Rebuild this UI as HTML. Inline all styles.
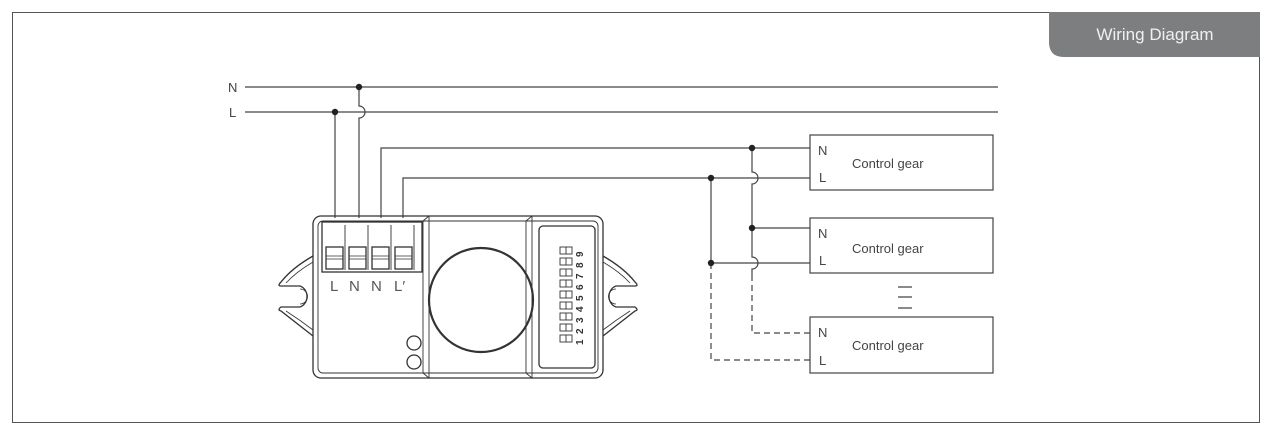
<!DOCTYPE html>
<html><head><meta charset="utf-8"><style>
html,body{margin:0;padding:0;background:#fff;}
svg{display:block;}
text{font-family:"Liberation Sans",sans-serif;}
</style></head><body>
<svg width="1272" height="435" viewBox="0 0 1272 435" xmlns="http://www.w3.org/2000/svg">
<rect x="12.5" y="12.5" width="1247" height="410" fill="none" stroke="#555" stroke-width="1"/>
<path d="M1049 12 H1260 V57 H1064 Q1049 57 1049 42 Z" fill="#7d7e80"/>
<text x="1155" y="40" font-size="17" fill="#f0f0f0" text-anchor="middle">Wiring Diagram</text>

<g stroke="#444" stroke-width="1.2" fill="none">
<path d="M245 87 H998"/>
<path d="M245 112 H998"/>
<path d="M335 112 V218"/>
<path d="M359 87 V106 A6 6 0 0 1 359 118 V218"/>
<path d="M381 218 V148 H810"/>
<path d="M403 218 V178 H810"/>
<path d="M752 148 V172 A6 6 0 0 1 752 184 V257 A6 6 0 0 1 752 269 V275"/>
<path d="M752 228 H810"/>
<path d="M711 178 V263 H810"/>
<path d="M752 275 V333 H810" stroke-dasharray="6,4"/>
<path d="M711 263 V360 H810" stroke-dasharray="6,4"/>
<rect x="810" y="135" width="183" height="55"/>
<rect x="810" y="218" width="183" height="55"/>
<rect x="810" y="317" width="183" height="56"/>
<path d="M898 287 H912 M898 297 H912 M898 308 H912"/>
</g>
<g fill="#222">
<circle cx="359" cy="87" r="3.2"/><circle cx="335" cy="112" r="3.2"/>
<circle cx="752" cy="148" r="3.2"/><circle cx="711" cy="178" r="3.2"/>
<circle cx="752" cy="228" r="3.2"/><circle cx="711" cy="263" r="3.2"/>
</g>
<g font-size="13" fill="#444">
<text x="228" y="92">N</text><text x="229" y="117">L</text>
<text x="818" y="155">N</text><text x="819" y="182">L</text>
<text x="818" y="238">N</text><text x="819" y="265">L</text>
<text x="818" y="337">N</text><text x="819" y="365">L</text>
<text x="852" y="168">Control gear</text>
<text x="852" y="253">Control gear</text>
<text x="852" y="350">Control gear</text>
</g>

<g stroke="#333" stroke-width="1.3" fill="none">
<path d="M313 256 Q292 268 281 282 Q277 286 281 286 H300 A10 11 0 0 1 300 307 H281 Q277 310 281 311 Q295 322 313 336"/>
<path d="M313 262 Q296 272 286 283 M300 289 A7 7 0 0 1 300 304 M286 311 Q300 320 313 330" stroke-width="0.8"/>
<path d="M603 256 Q624 268 635 282 Q639 286 635 286 H616 A10 11 0 0 0 616 307 H635 Q639 310 635 311 Q621 322 603 336"/>
<path d="M603 262 Q620 272 630 283 M616 289 A7 7 0 0 0 616 304 M630 311 Q616 320 603 330" stroke-width="0.8"/>
<rect x="313" y="216" width="290" height="162" rx="8"/>
<rect x="318" y="221" width="280" height="152" rx="5" stroke-width="0.9"/>
<path d="M423 221 L429 216 M423 373 L429 378 M526 221 L532 216 M526 373 L532 378" stroke-width="0.9"/>
<path d="M423 221 V373 M429 216 V378 M526 221 V373 M532 216 V378" stroke-width="0.9"/>
<rect x="539" y="226" width="56" height="142" rx="4"/>
<rect x="322" y="222" width="100" height="50"/>
<path d="M345 225 V270 M368 225 V270 M391 225 V270 M414 225 V270" stroke-width="0.9"/>
<rect x="326" y="247" width="17" height="22"/><rect x="349" y="247" width="17" height="22"/>
<rect x="372" y="247" width="17" height="22"/><rect x="395" y="247" width="17" height="22"/>
<path d="M326 256 H343 M326 259 H343 M349 256 H366 M349 259 H366 M372 256 H389 M372 259 H389 M395 256 H412 M395 259 H412" stroke-width="0.8"/>
<circle cx="481" cy="300" r="52" stroke-width="2.2"/>
<circle cx="414" cy="343" r="7"/><circle cx="414" cy="362" r="7"/>
</g>
<g font-size="15" fill="#555">
<text x="330" y="291">L</text><text x="349" y="291">N</text><text x="371" y="291">N</text><text x="394" y="291">L′</text>
</g>
<g stroke="#333" stroke-width="0.9" fill="none">
<rect x="560" y="247" width="12" height="7"/><rect x="560" y="258" width="12" height="7"/>
<rect x="560" y="269" width="12" height="7"/><rect x="560" y="280" width="12" height="7"/>
<rect x="560" y="291" width="12" height="7"/><rect x="560" y="302" width="12" height="7"/>
<rect x="560" y="313" width="12" height="7"/><rect x="560" y="324" width="12" height="7"/>
<rect x="560" y="335" width="12" height="7"/>
<path d="M566 247 V254 M566 258 V265 M566 269 V276 M566 280 V287 M566 291 V298 M566 302 V309 M566 313 V320 M566 324 V331 M566 335 V342"/>
</g>
<g font-size="10" font-weight="bold" fill="#333">
<text transform="translate(583,345) rotate(-90)">1</text>
<text transform="translate(583,334) rotate(-90)">2</text>
<text transform="translate(583,323) rotate(-90)">3</text>
<text transform="translate(583,312) rotate(-90)">4</text>
<text transform="translate(583,301) rotate(-90)">5</text>
<text transform="translate(583,290) rotate(-90)">6</text>
<text transform="translate(583,279) rotate(-90)">7</text>
<text transform="translate(583,268) rotate(-90)">8</text>
<text transform="translate(583,257) rotate(-90)">9</text>
</g>
</svg>
</body></html>
